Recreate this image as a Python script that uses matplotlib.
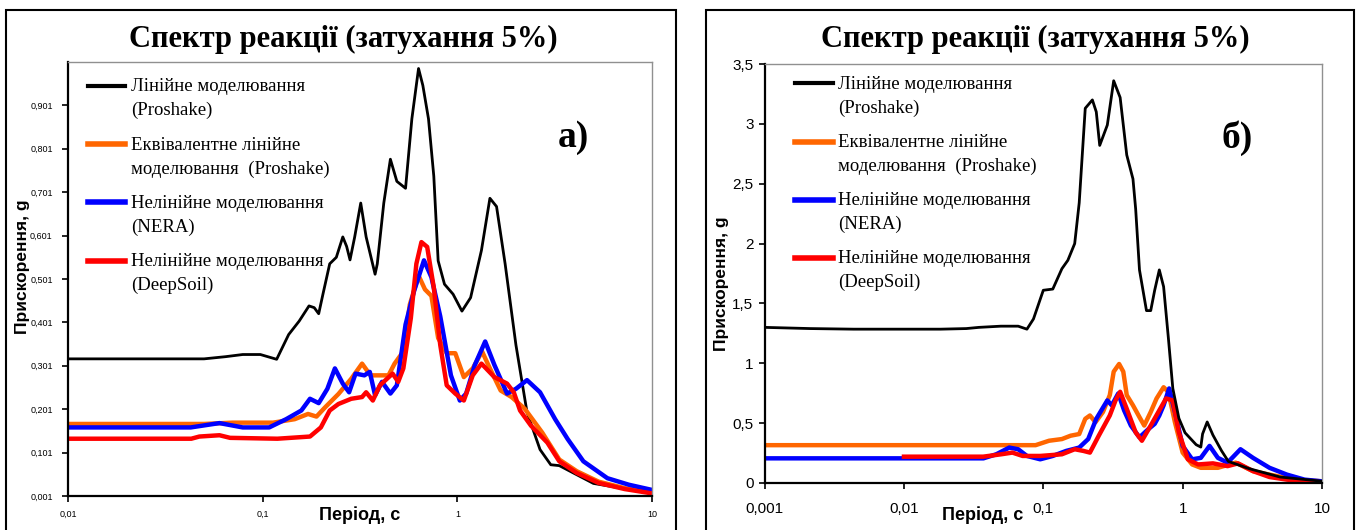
import matplotlib
matplotlib.use("Agg")
import matplotlib.pyplot as plt
from matplotlib.patches import Rectangle
from matplotlib.ticker import FixedLocator, NullLocator

# ---- panel a) : T (s) / Sa (g) ----
a_lin_T = [0.01, 0.05, 0.0644, 0.079, 0.0973, 0.118, 0.136, 0.154, 0.173, 0.184, 0.194, 0.204,
           0.221, 0.239, 0.258, 0.27, 0.281, 0.297, 0.319, 0.34, 0.378, 0.388, 0.419, 0.453,
           0.489, 0.542, 0.584, 0.632, 0.665, 0.711, 0.757, 0.797, 0.859, 0.951, 1.056, 1.17,
           1.33, 1.47, 1.59, 1.76, 2.0, 2.28, 2.66, 3.02, 3.34, 5.0, 10.0]
a_lin_S = [0.317, 0.317, 0.322, 0.327, 0.327, 0.316, 0.373, 0.404, 0.439, 0.435, 0.421, 0.466,
           0.536, 0.551, 0.598, 0.576, 0.545, 0.598, 0.676, 0.598, 0.512, 0.536, 0.676, 0.777,
           0.726, 0.71, 0.87, 0.986, 0.947, 0.87, 0.738, 0.543, 0.489, 0.466, 0.427, 0.458,
           0.567, 0.687, 0.668, 0.536, 0.349, 0.194, 0.108, 0.073, 0.071, 0.03, 0.007]

a_eq_T = [0.01, 0.05, 0.07, 0.1, 0.113, 0.146, 0.171, 0.189, 0.209, 0.245, 0.285, 0.324, 0.358,
          0.41, 0.443, 0.476, 0.528, 0.57, 0.632, 0.682, 0.736, 0.797, 0.882, 0.976, 1.08, 1.2,
          1.34, 1.47, 1.67, 1.9, 2.22, 2.73, 3.34, 4.11, 5.32, 7.24, 10.0]
a_eq_S = [0.167, 0.167, 0.17, 0.17, 0.17, 0.178, 0.19, 0.184, 0.205, 0.236, 0.271, 0.306, 0.279,
          0.279, 0.279, 0.306, 0.334, 0.442, 0.509, 0.477, 0.462, 0.365, 0.33, 0.33, 0.275, 0.295,
          0.334, 0.295, 0.244, 0.229, 0.202, 0.147, 0.085, 0.058, 0.034, 0.019, 0.009]

a_nera_T = [0.01, 0.0427, 0.06, 0.079, 0.108, 0.132, 0.158, 0.175, 0.194, 0.215, 0.235, 0.258,
            0.278, 0.3, 0.333, 0.355, 0.378, 0.41, 0.453, 0.489, 0.542, 0.6, 0.674, 0.736,
            0.817, 0.927, 1.03, 1.11, 1.23, 1.39, 1.55, 1.8, 2.0, 2.28, 2.66, 3.18, 3.69, 4.44,
            5.9, 7.6, 10.0]
a_nera_S = [0.159, 0.159, 0.169, 0.159, 0.159, 0.178, 0.198, 0.225, 0.215, 0.248, 0.295, 0.26,
            0.24, 0.283, 0.279, 0.287, 0.233, 0.264, 0.237, 0.256, 0.396, 0.474, 0.544, 0.505,
            0.415, 0.279, 0.221, 0.237, 0.303, 0.357, 0.303, 0.237, 0.248, 0.268, 0.24, 0.178,
            0.132, 0.081, 0.042, 0.027, 0.015]

a_deep_T = [0.01, 0.043, 0.0473, 0.06, 0.068, 0.119, 0.175, 0.199, 0.221, 0.245, 0.285, 0.324,
            0.34, 0.368, 0.4, 0.465, 0.497, 0.528, 0.577, 0.616, 0.654, 0.7, 0.757, 0.817, 0.882,
            0.976, 1.08, 1.2, 1.33, 1.55, 1.8, 1.95, 2.1, 2.39, 2.9, 3.34, 4.11, 5.32, 7.24, 10.0]
a_deep_S = [0.133, 0.133, 0.138, 0.141, 0.135, 0.133, 0.138, 0.159, 0.198, 0.213, 0.225, 0.229,
            0.24, 0.221, 0.256, 0.283, 0.264, 0.295, 0.411, 0.536, 0.586, 0.575, 0.481, 0.349,
            0.256, 0.237, 0.221, 0.279, 0.306, 0.275, 0.26, 0.24, 0.198, 0.163, 0.124, 0.081,
            0.054, 0.031, 0.017, 0.007]

# ---- panel б) ----
b_lin_T = [0.001, 0.00212, 0.00435, 0.0183, 0.028, 0.0345, 0.0496, 0.066, 0.0763, 0.085, 0.1,
           0.117, 0.136, 0.15, 0.168, 0.181, 0.2, 0.225, 0.24, 0.254, 0.288, 0.32, 0.356, 0.397,
           0.44, 0.46, 0.49, 0.55, 0.59, 0.63, 0.68, 0.73, 0.79, 0.85, 0.94, 1.04, 1.25, 1.35,
           1.39, 1.5, 1.65, 1.9, 2.13, 3.0, 5.0, 10.0]
b_lin_S = [1.30, 1.29, 1.285, 1.285, 1.29, 1.30, 1.31, 1.31, 1.285, 1.37, 1.61, 1.62, 1.79, 1.86,
           2.0, 2.34, 3.13, 3.20, 3.10, 2.82, 2.99, 3.36, 3.22, 2.74, 2.54, 2.29, 1.78, 1.44,
           1.44, 1.61, 1.78, 1.64, 1.21, 0.79, 0.54, 0.42, 0.32, 0.30, 0.41, 0.51, 0.40, 0.27,
           0.18, 0.12, 0.05, 0.015]

b_eq_T = [0.001, 0.088, 0.11, 0.136, 0.157, 0.181, 0.2, 0.216, 0.237, 0.268, 0.3, 0.32, 0.35,
          0.375, 0.397, 0.44, 0.49, 0.53, 0.59, 0.65, 0.73, 0.79, 0.88, 1.0, 1.17, 1.35, 1.79,
          2.4, 3.2, 4.2, 5.6, 7.5, 10.0]
b_eq_S = [0.316, 0.316, 0.353, 0.367, 0.395, 0.409, 0.536, 0.564, 0.508, 0.593, 0.734, 0.93,
          0.994, 0.93, 0.734, 0.649, 0.55, 0.48, 0.593, 0.706, 0.80, 0.76, 0.508, 0.254, 0.155,
          0.127, 0.127, 0.17, 0.099, 0.07, 0.042, 0.023, 0.014]

b_nera_T = [0.001, 0.0372, 0.046, 0.057, 0.066, 0.0763, 0.095, 0.117, 0.146, 0.181, 0.21, 0.24,
            0.288, 0.31, 0.345, 0.38, 0.425, 0.49, 0.57, 0.63, 0.68, 0.73, 0.8, 0.88, 1.0, 1.17,
            1.35, 1.56, 1.79, 2.1, 2.6, 3.2, 4.2, 5.6, 7.5, 10.0]
b_nera_S = [0.206, 0.206, 0.24, 0.296, 0.282, 0.226, 0.198, 0.226, 0.268, 0.296, 0.367, 0.536,
            0.69, 0.649, 0.748, 0.607, 0.48, 0.381, 0.452, 0.494, 0.564, 0.649, 0.79, 0.593,
            0.31, 0.198, 0.21, 0.31, 0.21, 0.17, 0.282, 0.21, 0.127, 0.07, 0.028, 0.014]

b_deep_T = [0.01, 0.037, 0.05, 0.06, 0.071, 0.095, 0.136, 0.168, 0.194, 0.216, 0.25, 0.3, 0.33,
            0.356, 0.397, 0.46, 0.51, 0.59, 0.68, 0.76, 0.85, 0.94, 1.09, 1.29, 1.65, 2.1, 2.5,
            3.2, 4.2, 5.6, 7.5, 10.0]
b_deep_S = [0.22, 0.22, 0.24, 0.254, 0.226, 0.226, 0.24, 0.282, 0.268, 0.254, 0.395, 0.564, 0.69,
            0.762, 0.62, 0.423, 0.353, 0.48, 0.607, 0.706, 0.69, 0.423, 0.198, 0.155, 0.164,
            0.141, 0.164, 0.099, 0.05, 0.028, 0.014, 0.006]

labels = ["Лінійне моделювання\n(Proshake)",
          "Еквівалентне лінійне\nмоделювання  (Proshake)",
          "Нелінійне моделювання\n(NERA)",
          "Нелінійне моделювання\n(DeepSoil)"]
colors = ["black", "#FF6600", "#0000FF", "#FF0000"]
widths = [2.0, 3.2, 3.2, 3.2]

a_xticks = [0.01, 0.1, 1, 10]
a_xlabels = ["0,01", "0,1", "1", "10"]
a_yticks = [0.001, 0.101, 0.201, 0.301, 0.401, 0.501, 0.601, 0.701, 0.801, 0.901]
b_xticks = [0.001, 0.01, 0.1, 1, 10]
b_xlabels = ["0,001", "0,01", "0,1", "1", "10"]
b_yticks = [0, 0.5, 1, 1.5, 2, 2.5, 3, 3.5]

title = "Спектр реакції (затухання 5%)"
serif = "Liberation Serif"
sans = "Liberation Sans"


def fmt(v):
    s = ("%.3f" % v).rstrip("0").rstrip(".")
    return s.replace(".", ",")


def style_axes(ax, xt, xl, yt, ylim, xlim, tick_fs, pad_x, pad_y):
    ax.set_xscale("log")
    ax.set_xlim(*xlim)
    ax.set_ylim(*ylim)
    ax.xaxis.set_major_locator(FixedLocator(xt))
    ax.xaxis.set_minor_locator(NullLocator())
    ax.set_xticklabels(xl)
    ax.set_yticks(yt)
    ax.set_yticklabels([fmt(v) if v else "0" for v in yt])
    for s in ["top", "right"]:
        ax.spines[s].set_color("#909090")
        ax.spines[s].set_linewidth(1.0)
    for s in ["left", "bottom"]:
        ax.spines[s].set_color("black")
        ax.spines[s].set_linewidth(1.6)
    ax.tick_params(direction="out", length=4, width=1.2, labelsize=tick_fs)
    ax.tick_params(axis="x", pad=pad_x)
    ax.tick_params(axis="y", pad=pad_y)
    for t in ax.get_xticklabels() + ax.get_yticklabels():
        t.set_fontfamily(sans)


def add_legend(ax, handles, anchor):
    leg = ax.legend(handles, labels, loc="upper left", bbox_to_anchor=anchor,
                    frameon=False, borderaxespad=0, borderpad=0,
                    handlelength=2.0, handletextpad=0.3, labelspacing=0.92,
                    prop={"family": serif, "size": 13.5})
    for t in leg.get_texts():
        t.set_linespacing(1.5)
    for h in leg.legend_handles:
        h.set_ydata(h.get_ydata() + 9.2)
        h.set_linewidth(4.0 if h.get_color() != "black" else 3.0)
    return leg


fig = plt.figure(figsize=(13.6, 5.3), dpi=100)

# outer frames
fig.patches.append(Rectangle((6 / 1360, -0.05), 670 / 1360, 1.05 - 10 / 530,
                             transform=fig.transFigure, fill=False, lw=1.5, ec="black"))
fig.patches.append(Rectangle((706 / 1360, -0.05), 648 / 1360, 1.05 - 10 / 530,
                             transform=fig.transFigure, fill=False, lw=1.5, ec="black"))

ax1 = fig.add_axes([68 / 1360, 1 - 496 / 530, 584 / 1360, 434 / 530])
ax2 = fig.add_axes([764.6 / 1360, 1 - 483 / 530, 557.4 / 1360, 419 / 530])

h1 = []
for T, S, c, w in [(a_lin_T, a_lin_S, colors[0], widths[0]),
                   (a_eq_T, a_eq_S, colors[1], widths[1]),
                   (a_nera_T, a_nera_S, colors[2], widths[2]),
                   (a_deep_T, a_deep_S, colors[3], widths[3])]:
    h1.append(ax1.plot(T, S, color=c, lw=w, solid_joinstyle="round")[0])

h2 = []
for T, S, c, w in [(b_lin_T, b_lin_S, colors[0], widths[0]),
                   (b_eq_T, b_eq_S, colors[1], widths[1]),
                   (b_nera_T, b_nera_S, colors[2], widths[2]),
                   (b_deep_T, b_deep_S, colors[3], widths[3])]:
    h2.append(ax2.plot(T, S, color=c, lw=w, solid_joinstyle="round")[0])
# black linear curve on top in panel б
h2[0].set_zorder(3)

style_axes(ax1, a_xticks, a_xlabels, a_yticks, (0.001, 1.001), (0.01, 10), 6.5, 6, 7)
style_axes(ax2, b_xticks, b_xlabels, b_yticks, (0, 3.5), (0.001, 10), 11, 10, 4)

add_legend(ax1, h1, (0.034, 0.962))
add_legend(ax2, h2, (0.055, 0.972))

for ax, (lx, ly), (xx, xy) in [(ax1, (-0.078, 0.528), (0.5, -0.044)),
                                (ax2, (-0.0766, 0.475), (0.392, -0.076))]:
    ax.set_ylabel("Прискорення, g", fontfamily=sans, fontweight="bold", fontsize=12.5)
    ax.yaxis.set_label_coords(lx, ly)
    ax.yaxis.label.set_va("center")
    ax.set_xlabel("Період, с", fontfamily=sans, fontweight="bold", fontsize=13)
    ax.xaxis.set_label_coords(xx, xy)
    ax.xaxis.label.set_va("center")

ax1.text(0.865, 0.825, "а)", transform=ax1.transAxes, ha="center", va="center",
         fontfamily=serif, fontweight="bold", fontsize=27)
ax2.text(0.848, 0.823, "б)", transform=ax2.transAxes, ha="center", va="center",
         fontfamily=serif, fontweight="bold", fontsize=27)

fig.text(343 / 1360, 1 - 39 / 530, title, ha="center", va="center",
         fontfamily=serif, fontweight="bold", fontsize=22)
fig.text(1035.6 / 1360, 1 - 39 / 530, title, ha="center", va="center",
         fontfamily=serif, fontweight="bold", fontsize=22)

fig.savefig("out.png", dpi=100)
